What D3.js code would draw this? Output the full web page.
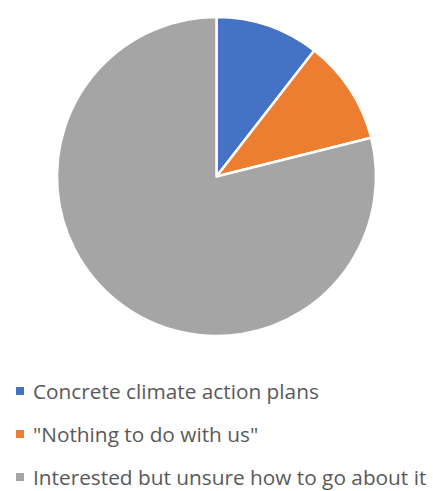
<!DOCTYPE html>
<html><head><meta charset="utf-8">
<script src="https://cdn.jsdelivr.net/npm/d3@7"></script>
<style>body{margin:0;background:#fff}</style>
</head><body>
<svg id="c" width="433" height="491"></svg>
<script>
const categories = ["Concrete climate action plans", "\"Nothing to do with us\"", "Interested but unsure how to go about it"];
const values = [10.5, 10.6, 78.9];
const colors = ["#4472C4", "#ED7D31", "#A5A5A5"];

const svg = d3.select("#c");
const cx = 216.5, cy = 176.5, r = 159.5;
const pie = d3.pie().sort(null).value(d => d)(values);
const arc = d3.arc().innerRadius(0).outerRadius(r);
svg.append("g").attr("transform", `translate(${cx},${cy})`)
  .selectAll("path").data(pie).join("path")
  .attr("d", arc).attr("fill", (d,i) => colors[i])
  .attr("stroke", "#fff").attr("stroke-width", 2.5).attr("stroke-linejoin","round");

const lg = svg.append("g");
categories.forEach((c, i) => {
  const y = 391 + i * 43;
  lg.append("rect").attr("x", 16).attr("y", y - 4).attr("width", 8).attr("height", 8).attr("fill", colors[i]);
  lg.append("text").attr("x", 33).attr("y", y + 7.5)
    .attr("font-family", "Open Sans, sans-serif").attr("font-size", 20.8)
    .attr("fill", "#595959").text(c);
});
</script>
</body></html>
